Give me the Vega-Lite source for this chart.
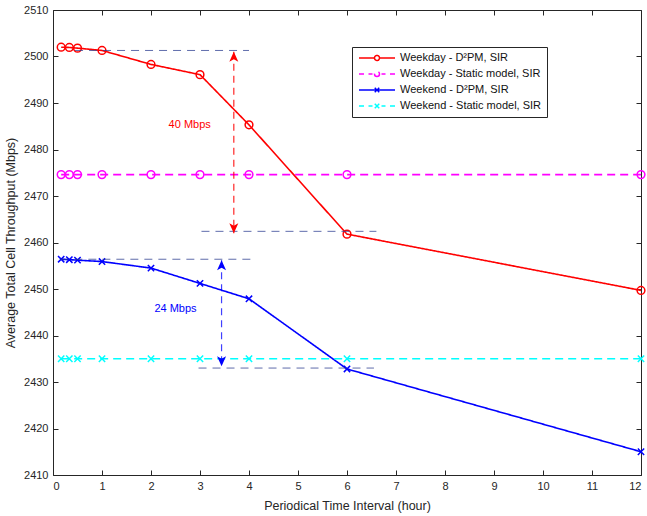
{
  "$schema": "https://vega.github.io/schema/vega-lite/v6.json",
  "width": 588,
  "height": 465,
  "autosize": {"type": "none"},
  "padding": {"left": 53, "top": 10, "right": 6, "bottom": 41},
  "background": "white",
  "config": {
    "font": "Liberation Sans",
    "view": {"stroke": "#262626", "strokeWidth": 1},
    "axis": {
      "domain": false,
      "grid": true,
      "gridColor": "#e3e3e3",
      "gridWidth": 1,
      "tickColor": "#262626",
      "tickSize": -5,
      "labelFont": "Liberation Sans",
      "labelFontSize": 11,
      "labelColor": "#262626",
      "titleFont": "Liberation Sans",
      "titleFontSize": 12.5,
      "titleFontWeight": "normal",
      "titleColor": "#262626"
    },
    "legend": {
      "orient": "none",
      "legendX": 299,
      "legendY": 37,
      "strokeColor": "#262626",
      "fillColor": "white",
      "padding": 5,
      "labelFont": "Liberation Sans",
      "labelFontSize": 11,
      "labelColor": "#111111",
      "symbolStrokeWidth": 1.5,
      "symbolSize": 100,
      "symbolOffset": 14,
      "labelOffset": 17,
      "rowPadding": 4,
      "symbolOpacity": 1
    }
  },
  "datasets": {
    "series": [
      {"series": "Weekday - D²PM, SIR", "x": 0.1667, "y": 2502.0},
      {"series": "Weekday - D²PM, SIR", "x": 0.3333, "y": 2501.95},
      {"series": "Weekday - D²PM, SIR", "x": 0.5, "y": 2501.8},
      {"series": "Weekday - D²PM, SIR", "x": 1, "y": 2501.3},
      {"series": "Weekday - D²PM, SIR", "x": 2, "y": 2498.3},
      {"series": "Weekday - D²PM, SIR", "x": 3, "y": 2496.1},
      {"series": "Weekday - D²PM, SIR", "x": 4, "y": 2485.3},
      {"series": "Weekday - D²PM, SIR", "x": 6, "y": 2461.8},
      {"series": "Weekday - D²PM, SIR", "x": 12, "y": 2449.7},
      {"series": "Weekday - Static model, SIR", "x": 0.1667, "y": 2474.6},
      {"series": "Weekday - Static model, SIR", "x": 0.3333, "y": 2474.6},
      {"series": "Weekday - Static model, SIR", "x": 0.5, "y": 2474.6},
      {"series": "Weekday - Static model, SIR", "x": 1, "y": 2474.6},
      {"series": "Weekday - Static model, SIR", "x": 2, "y": 2474.6},
      {"series": "Weekday - Static model, SIR", "x": 3, "y": 2474.6},
      {"series": "Weekday - Static model, SIR", "x": 4, "y": 2474.6},
      {"series": "Weekday - Static model, SIR", "x": 6, "y": 2474.6},
      {"series": "Weekday - Static model, SIR", "x": 12, "y": 2474.6},
      {"series": "Weekend - D²PM, SIR", "x": 0.1667, "y": 2456.4},
      {"series": "Weekend - D²PM, SIR", "x": 0.3333, "y": 2456.3},
      {"series": "Weekend - D²PM, SIR", "x": 0.5, "y": 2456.2},
      {"series": "Weekend - D²PM, SIR", "x": 1, "y": 2455.9},
      {"series": "Weekend - D²PM, SIR", "x": 2, "y": 2454.5},
      {"series": "Weekend - D²PM, SIR", "x": 3, "y": 2451.2},
      {"series": "Weekend - D²PM, SIR", "x": 4, "y": 2447.9},
      {"series": "Weekend - D²PM, SIR", "x": 6, "y": 2432.8},
      {"series": "Weekend - D²PM, SIR", "x": 12, "y": 2415.0},
      {"series": "Weekend - Static model, SIR", "x": 0.1667, "y": 2435.0},
      {"series": "Weekend - Static model, SIR", "x": 0.3333, "y": 2435.0},
      {"series": "Weekend - Static model, SIR", "x": 0.5, "y": 2435.0},
      {"series": "Weekend - Static model, SIR", "x": 1, "y": 2435.0},
      {"series": "Weekend - Static model, SIR", "x": 2, "y": 2435.0},
      {"series": "Weekend - Static model, SIR", "x": 3, "y": 2435.0},
      {"series": "Weekend - Static model, SIR", "x": 4, "y": 2435.0},
      {"series": "Weekend - Static model, SIR", "x": 6, "y": 2435.0},
      {"series": "Weekend - Static model, SIR", "x": 12, "y": 2435.0}
    ],
    "guides": [
      {"x": 0.45, "x2": 4.0, "y": 2501.3},
      {"x": 3.03, "x2": 6.6, "y": 2462.4},
      {"x": 0.15, "x2": 4.12, "y": 2456.4},
      {"x": 2.97, "x2": 6.55, "y": 2433.0}
    ],
    "arrows": [
      {"group": "weekday", "x": 3.69, "y": 2501.0, "y2": 2462.0},
      {"group": "weekend", "x": 3.44, "y": 2456.2, "y2": 2433.4}
    ],
    "heads": [
      {"group": "weekday", "end": "top", "x": 3.69, "y": 2501.0},
      {"group": "weekday", "end": "bottom", "x": 3.69, "y": 2462.0},
      {"group": "weekend", "end": "top", "x": 3.44, "y": 2456.2},
      {"group": "weekend", "end": "bottom", "x": 3.44, "y": 2433.4}
    ],
    "labels": [
      {"group": "weekday", "x": 2.79, "y": 2485.3, "text": "40 Mbps"},
      {"group": "weekend", "x": 2.5, "y": 2445.6, "text": "24 Mbps"}
    ]
  },
  "resolve": {"axis": {"x": "independent", "y": "independent"}},
  "layer": [
    {
      "data": {"name": "series"},
      "mark": {"type": "point", "filled": false, "opacity": 0, "strokeWidth": 1.5, "size": 100},
      "encoding": {
        "x": {"field": "x", "type": "quantitative", "scale": {"domain": [0, 12], "nice": false},
              "axis": {"orient": "top", "values": [0,1,2,3,4,5,6,7,8,9,10,11,12], "labels": false, "title": null, "grid": false}},
        "y": {"field": "y", "type": "quantitative", "scale": {"domain": [2410, 2510], "nice": false, "zero": false},
              "axis": {"orient": "right", "values": [2410,2420,2430,2440,2450,2460,2470,2480,2490,2500,2510], "labels": false, "title": null, "grid": false}},
        "color": {"field": "series", "type": "nominal", "legend": {"title": null},
                  "scale": {"domain": ["Weekday - D²PM, SIR", "Weekday - Static model, SIR", "Weekend - D²PM, SIR", "Weekend - Static model, SIR"],
                            "range": ["#ff0000", "#ff00ff", "#0000ff", "#00ffff"]}},
        "shape": {"field": "series", "type": "nominal",
                  "scale": {"domain": ["Weekday - D²PM, SIR", "Weekday - Static model, SIR", "Weekend - D²PM, SIR", "Weekend - Static model, SIR"],
                            "range": [
                              "M-3.6,0H-0.5M0.5,0H3.6M0.5,0A0.5,0.5 0 1,1 -0.5,0A0.5,0.5 0 1,1 0.5,0",
                              "M-3.6,0H-2.6M-1.7,0H-0.9M0.9,0H1.7M2.6,0H3.6M0.5,0A0.5,0.5 0 1,1 -0.5,0A0.5,0.5 0 1,1 0.5,0",
                              "M-3.6,0H3.6M-0.45,-0.45L0.45,0.45M-0.45,0.45L0.45,-0.45",
                              "M-3.6,0H-2.6M-1.7,0H-0.9M0.9,0H1.7M2.6,0H3.6M-0.45,-0.45L0.45,0.45M-0.45,0.45L0.45,-0.45"
                            ]},
                  "legend": {"title": null, "symbolOpacity": 1, "symbolFillColor": "transparent"}}
      }
    },
    {
      "data": {"name": "series"},
      "mark": {"type": "line", "strokeWidth": 1.6},
      "encoding": {
        "x": {"field": "x", "type": "quantitative",
              "axis": {"orient": "bottom", "values": [0,1,2,3,4,5,6,7,8,9,10,11,12], "title": "Periodical Time Interval (hour)", "labelPadding": 10, "titlePadding": 8}},
        "y": {"field": "y", "type": "quantitative",
              "axis": {"orient": "left", "values": [2410,2420,2430,2440,2450,2460,2470,2480,2490,2500,2510], "format": "d", "title": "Average Total Cell Throughput (Mbps)", "labelPadding": 10, "titlePadding": 6}},
        "color": {"field": "series", "type": "nominal", "legend": null},
        "strokeDash": {"field": "series", "type": "nominal", "legend": null,
                       "scale": {"domain": ["Weekday - D²PM, SIR", "Weekday - Static model, SIR", "Weekend - D²PM, SIR", "Weekend - Static model, SIR"],
                                 "range": [[1, 0], [8, 5], [1, 0], [8, 5]]}}
      }
    },
    {
      "data": {"name": "series"},
      "transform": [{"filter": "indexof(datum.series, 'Weekday') === 0"}],
      "mark": {"type": "point", "shape": "circle", "filled": false, "size": 60, "strokeWidth": 1.5, "opacity": 1},
      "encoding": {
        "x": {"field": "x", "type": "quantitative", "axis": null},
        "y": {"field": "y", "type": "quantitative", "axis": null},
        "color": {"field": "series", "type": "nominal", "legend": null}
      }
    },
    {
      "data": {"name": "series"},
      "transform": [{"filter": "indexof(datum.series, 'Weekend') === 0"}],
      "mark": {"type": "point", "shape": "M-1,-1L1,1M-1,1L1,-1", "filled": false, "size": 40, "strokeWidth": 1.5, "opacity": 1},
      "encoding": {
        "x": {"field": "x", "type": "quantitative", "axis": null},
        "y": {"field": "y", "type": "quantitative", "axis": null},
        "color": {"field": "series", "type": "nominal", "legend": null}
      }
    },
    {
      "data": {"name": "guides"},
      "mark": {"type": "rule", "color": "#2a3b8f", "opacity": 0.75, "strokeWidth": 1, "strokeDash": [8, 6]},
      "encoding": {
        "x": {"field": "x", "type": "quantitative", "axis": null},
        "x2": {"field": "x2"},
        "y": {"field": "y", "type": "quantitative", "axis": null}
      }
    },
    {
      "data": {"name": "arrows"},
      "transform": [{"filter": "datum.group === 'weekday'"}],
      "mark": {"type": "rule", "color": "#ff0000", "opacity": 0.85, "strokeWidth": 1.2, "strokeDash": [7, 5]},
      "encoding": {
        "x": {"field": "x", "type": "quantitative", "axis": null},
        "y": {"field": "y", "type": "quantitative", "axis": null},
        "y2": {"field": "y2"}
      }
    },
    {
      "data": {"name": "arrows"},
      "transform": [{"filter": "datum.group === 'weekend'"}],
      "mark": {"type": "rule", "color": "#0000ff", "opacity": 0.75, "strokeWidth": 1.2, "strokeDash": [7, 5]},
      "encoding": {
        "x": {"field": "x", "type": "quantitative", "axis": null},
        "y": {"field": "y", "type": "quantitative", "axis": null},
        "y2": {"field": "y2"}
      }
    },
    {
      "data": {"name": "heads"},
      "transform": [{"filter": "datum.group === 'weekday' && datum.end === 'top'"}],
      "mark": {"type": "point", "shape": "M0,0L0.9,2L0,1.5L-0.9,2Z", "filled": true, "size": 100, "color": "#ff0000", "opacity": 1, "strokeWidth": 0},
      "encoding": {
        "x": {"field": "x", "type": "quantitative", "axis": null},
        "y": {"field": "y", "type": "quantitative", "axis": null}
      }
    },
    {
      "data": {"name": "heads"},
      "transform": [{"filter": "datum.group === 'weekday' && datum.end === 'bottom'"}],
      "mark": {"type": "point", "shape": "M0,0L0.9,-2L0,-1.5L-0.9,-2Z", "filled": true, "size": 100, "color": "#ff0000", "opacity": 1, "strokeWidth": 0},
      "encoding": {
        "x": {"field": "x", "type": "quantitative", "axis": null},
        "y": {"field": "y", "type": "quantitative", "axis": null}
      }
    },
    {
      "data": {"name": "heads"},
      "transform": [{"filter": "datum.group === 'weekend' && datum.end === 'top'"}],
      "mark": {"type": "point", "shape": "M0,0L0.9,2L0,1.5L-0.9,2Z", "filled": true, "size": 100, "color": "#0000ff", "opacity": 1, "strokeWidth": 0},
      "encoding": {
        "x": {"field": "x", "type": "quantitative", "axis": null},
        "y": {"field": "y", "type": "quantitative", "axis": null}
      }
    },
    {
      "data": {"name": "heads"},
      "transform": [{"filter": "datum.group === 'weekend' && datum.end === 'bottom'"}],
      "mark": {"type": "point", "shape": "M0,0L0.9,-2L0,-1.5L-0.9,-2Z", "filled": true, "size": 100, "color": "#0000ff", "opacity": 1, "strokeWidth": 0},
      "encoding": {
        "x": {"field": "x", "type": "quantitative", "axis": null},
        "y": {"field": "y", "type": "quantitative", "axis": null}
      }
    },
    {
      "data": {"name": "labels"},
      "transform": [{"filter": "datum.group === 'weekday'"}],
      "mark": {"type": "text", "color": "#ff0000", "fontSize": 11, "font": "Liberation Sans", "align": "center", "baseline": "middle"},
      "encoding": {
        "x": {"field": "x", "type": "quantitative", "axis": null},
        "y": {"field": "y", "type": "quantitative", "axis": null},
        "text": {"field": "text"}
      }
    },
    {
      "data": {"name": "labels"},
      "transform": [{"filter": "datum.group === 'weekend'"}],
      "mark": {"type": "text", "color": "#0000ff", "fontSize": 11, "font": "Liberation Sans", "align": "center", "baseline": "middle"},
      "encoding": {
        "x": {"field": "x", "type": "quantitative", "axis": null},
        "y": {"field": "y", "type": "quantitative", "axis": null},
        "text": {"field": "text"}
      }
    }
  ]
}
